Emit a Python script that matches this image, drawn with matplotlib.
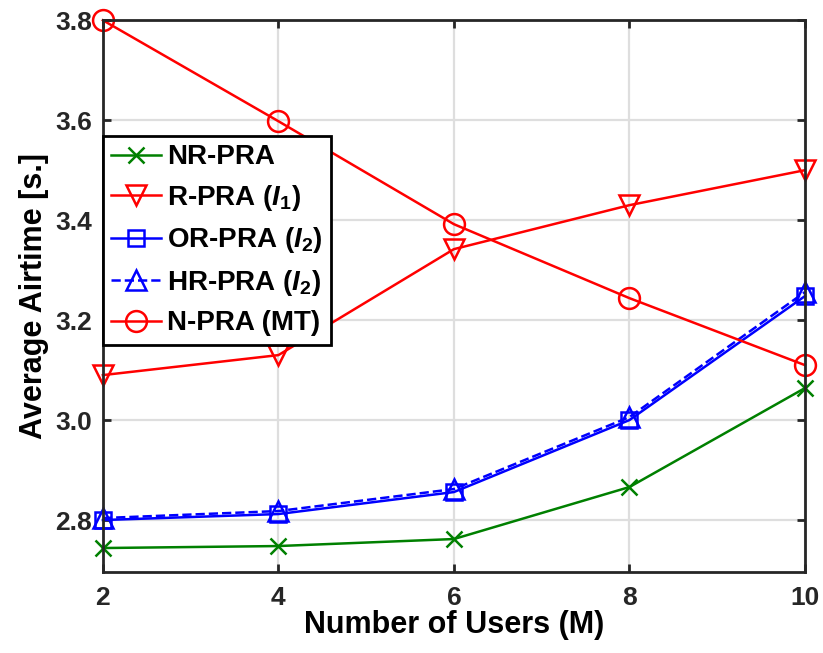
import matplotlib
matplotlib.use("Agg")
import matplotlib.pyplot as plt

# Average airtime vs number of users for each scheme
users = [2, 4, 6, 8, 10]
nr_pra = [2.744, 2.748, 2.762, 2.866, 3.064]
r_pra = [3.090, 3.130, 3.342, 3.430, 3.500]
or_pra = [2.800, 2.812, 2.856, 3.000, 3.248]
hr_pra = [2.804, 2.818, 2.862, 3.006, 3.256]
n_pra = [3.800, 3.598, 3.392, 3.244, 3.110]

y_ticks = [2.8, 3.0, 3.2, 3.4, 3.6, 3.8]

plt.rcParams["font.family"] = ["Liberation Sans", "DejaVu Sans"]
plt.rcParams["font.weight"] = "bold"
plt.rcParams["mathtext.fontset"] = "custom"
plt.rcParams["mathtext.rm"] = "Liberation Sans:bold"
plt.rcParams["mathtext.it"] = "Liberation Sans:bold:italic"
plt.rcParams["mathtext.bf"] = "Liberation Sans:bold"

axcol = "#262626"
fig = plt.figure(figsize=(8.23, 6.53), dpi=100)
ax = fig.add_axes([0.125, 0.124, 0.853, 0.845])

lw = 1.8
mew = 1.8
common = dict(lw=lw, mew=mew, clip_on=False)
ax.plot(users, nr_pra, color=(0, 0.5, 0), marker="x", ms=12,
        label="NR-PRA", **common)
ax.plot(users, r_pra, color="red", marker="v", ms=15, mfc="none",
        label=r"R-PRA ($\mathit{I_1}$)", **common)
ax.plot(users, or_pra, color="blue", marker="s", ms=11, mfc="none",
        label=r"OR-PRA ($\mathit{I_2}$)", **common)
ax.plot(users, hr_pra, color="blue", ls="--", marker="^", ms=15, mfc="none",
        label=r"HR-PRA ($\mathit{I_2}$)", **common)
ax.plot(users, n_pra, color="red", marker="o", ms=15, mfc="none",
        label="N-PRA (MT)", **common)

ax.set_xlim(2, 10)
ax.set_ylim(2.696, 3.8)
ax.set_xticks(users)
ax.set_yticks(y_ticks)
ax.set_yticklabels([f"{v:.1f}" for v in y_ticks])
ax.grid(True, color="#dedede", lw=1.6)
ax.set_axisbelow(True)

for s in ax.spines.values():
    s.set_color(axcol)
    s.set_linewidth(2)
ax.tick_params(direction="in", length=6, width=2, colors=axcol,
               labelsize=19, top=True, right=True, pad=8)
ax.tick_params(axis="x", pad=10)
for lab in ax.get_xticklabels() + ax.get_yticklabels():
    lab.set_fontweight("bold")

ax.set_xlabel("Number of Users (M)", fontsize=22, fontweight="bold",
              color="black", labelpad=0)
ax.set_ylabel("Average Airtime [s.]", fontsize=22, fontweight="bold",
              color="black", labelpad=4)

leg = ax.legend(loc="upper left", bbox_to_anchor=(0.0, 0.79),
                borderaxespad=0, fancybox=False, framealpha=1,
                edgecolor="black", fontsize=20, handlelength=1.8,
                handletextpad=0.2, labelspacing=0.45, borderpad=0.3)
leg.get_frame().set_linewidth(2)
for t in leg.get_texts():
    t.set_fontweight("bold")

fig.savefig("out.png", dpi=100)
